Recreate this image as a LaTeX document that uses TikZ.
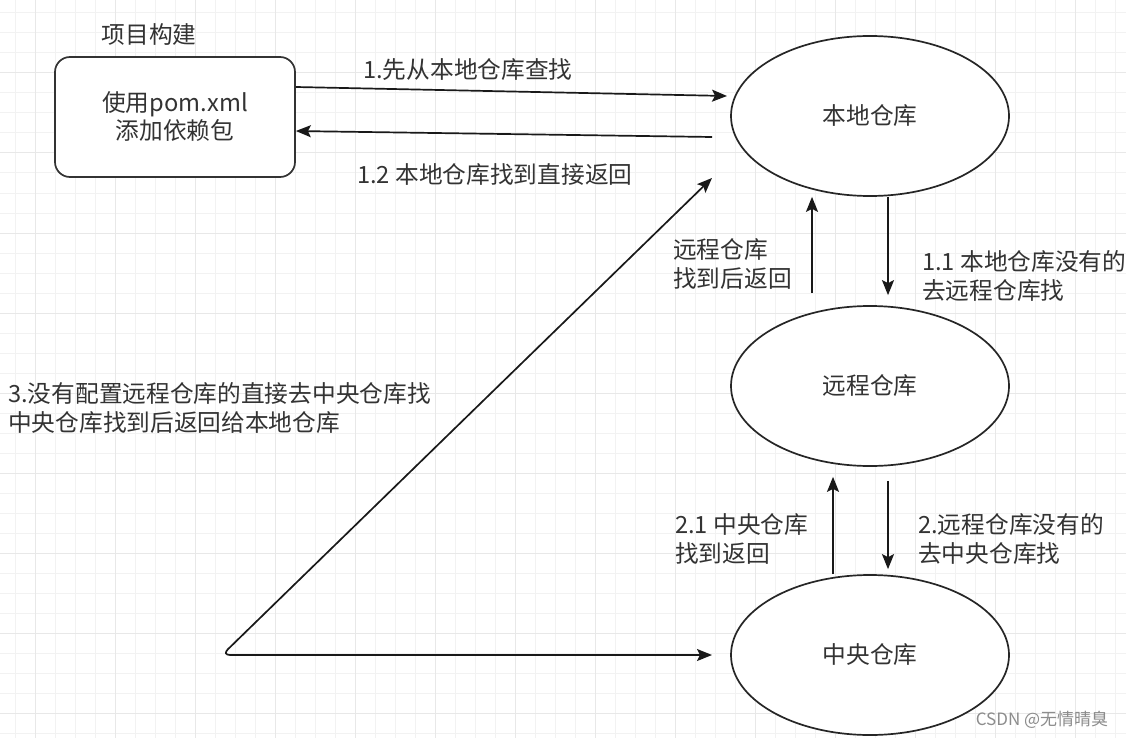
\documentclass[tikz,border=0pt]{standalone}
\usepackage{fontspec}
\setmainfont{Noto Sans CJK SC}
\usetikzlibrary{arrows.meta,shapes.geometric}
\definecolor{gridminor}{HTML}{F2F2F2}
\definecolor{gridmajor}{HTML}{E8E8E8}
\definecolor{txt}{HTML}{333333}
\begin{document}
\begin{tikzpicture}[x=1pt,y=-1pt,
  lbl/.style={inner sep=0pt, text=txt, font=\fontsize{23.7}{29}\selectfont, align=left},
  store/.style={ellipse, draw=black!85, line width=1.7pt, fill=white, minimum width=278pt, minimum height=160pt, inner sep=0pt, text=txt, font=\fontsize{23.7}{29}\selectfont},
  projbox/.style={draw=black!80, line width=1.7pt, rounded corners=15pt, fill=white, minimum width=240pt, minimum height=120pt, inner sep=0pt, text=txt, align=center, font=\fontsize{23.7}{28}\selectfont},
  arr/.style={draw=black!90, line width=1.7pt, -{Stealth[length=15pt,width=12pt,inset=3pt]}},
  biarr/.style={draw=black!90, line width=1.7pt, {Stealth[length=15pt,width=12pt,inset=3pt]}-{Stealth[length=15pt,width=12pt,inset=3pt]}, rounded corners=8pt}
]
\useasboundingbox (0,0) rectangle (1126,738);
\fill[white] (0,0) rectangle (1126,738);
% grid
\foreach \gx in {15,35,...,1125} {\draw[gridminor, line width=1pt] (\gx,0) -- (\gx,738);}
\foreach \gy in {13,33,...,737} {\draw[gridminor, line width=1pt] (0,\gy) -- (1126,\gy);}
\foreach \gx in {35,115,...,1125} {\draw[gridmajor, line width=1pt] (\gx,0) -- (\gx,738);}
\foreach \gy in {73,153,...,737} {\draw[gridmajor, line width=1pt] (0,\gy) -- (1126,\gy);}

% nodes
\node[lbl] (title) at (149,35) {项目构建};
\node[projbox] (box) at (175,117) {使用pom.xml\\添加依赖包};
\node[store] (local) at (870,116) {本地仓库};
\node[store] (remote) at (870,386) {远程仓库};
\node[store] (central) at (870,655) {中央仓库};

% free-end coordinates
\coordinate (t1) at (727,96);
\coordinate (s12) at (712,137);
\coordinate (tdiag) at (712,178);
\coordinate (corner) at (222,655);
\coordinate (tcent) at (712,655);

% connectors
\draw[arr] (box.east |- {(0,87)}) -- (t1);
\draw[arr] (s12) -- (box.east |- {(0,131)});
\draw[arr, shorten >=10pt] (local.south -| {(888,0)}) -- (remote.north -| {(888,0)});
\draw[arr, shorten <=12pt] (remote.north -| {(812,0)}) -- (local.south -| {(812,0)});
\draw[arr, shorten <=14pt, shorten >=5pt] (remote.south -| {(888,0)}) -- (central.north -| {(888,0)});
\draw[arr, shorten >=10pt] (central.north -| {(833,0)}) -- (remote.south -| {(833,0)});
\draw[biarr] (tdiag) -- (corner) -- (tcent);

% labels
\node[lbl, anchor=west] (l1) at (363,70) {1.先从本地仓库查找};
\node[lbl, anchor=west] (l12) at (357,175) {1.2 本地仓库找到直接返回};
\node[lbl, anchor=west] (lrb) at (673,264) {远程仓库\\找到后返回};
\node[lbl, anchor=west] (l11) at (922,276) {1.1 本地仓库没有的\\去远程仓库找};
\node[lbl, anchor=west] (l21) at (675,539) {2.1 中央仓库\\找到返回};
\node[lbl, anchor=west] (l2) at (918,539) {2.远程仓库没有的\\去中央仓库找};
\node[lbl, anchor=west] (l3) at (8,408) {3.没有配置远程仓库的直接去中央仓库找\\中央仓库找到后返回给本地仓库};
\node[inner sep=0pt, text=black!45, font=\fontsize{17}{17}\selectfont] (wm) at (1042,720) {CSDN @无情晴臭};
\end{tikzpicture}
\end{document}
